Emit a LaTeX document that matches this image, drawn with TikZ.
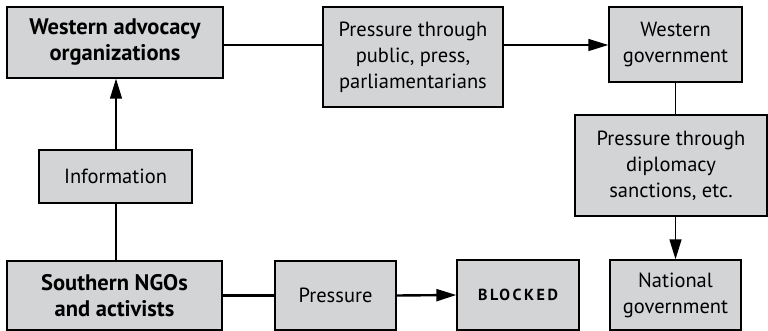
\documentclass[tikz,border=0pt]{standalone}
\usepackage{fontspec}
\setmainfont{PT Sans}
\newfontfamily\spacedcaps[LetterSpace=16]{PT Sans}
\usetikzlibrary{arrows.meta,calc}
\definecolor{boxgray}{HTML}{D3D4D6}
\tikzset{
  x=1pt, y=-1pt,
  box/.style={draw=black, line width=1.4pt, fill=boxgray, align=center,
    inner sep=0pt, font=\fontsize{20.5}{26}\selectfont},
  boldtext/.style={font=\fontsize{22.5}{26}\selectfont\bfseries},
  link/.style={line width=1.4pt},
  thick link/.style={line width=2.4pt},
  arrowed/.style={-{Triangle[length=20pt,width=12pt]}},
}
\begin{document}
\begin{tikzpicture}
\useasboundingbox (0,0) rectangle (768,331);
% boxes
\node[box, boldtext, minimum width=216pt, minimum height=71pt] (wao) at (115,42.5)
  {Western advocacy\\organizations};
\node[box, minimum width=180pt, minimum height=100pt] (ppp) at (413,57)
  {Pressure through\\public, press,\\parliamentarians};
\node[box, minimum width=133pt, minimum height=75pt] (wg) at (675.5,44.5)
  {Western\\government};
\node[box, minimum width=192pt, minimum height=101pt] (pds) at (671,165.5)
  {Pressure through\\diplomacy\\sanctions, etc.};
\node[box, minimum width=131pt, minimum height=70pt] (ng) at (675.5,295)
  {National\\government};
\node[box, minimum width=122pt, minimum height=70pt] (blk) at (518,295)
  {\spacedcaps\fontsize{16}{18}\selectfont\bfseries BLOCKED};
\node[box, minimum width=121pt, minimum height=69pt] (prs) at (335.5,295.5)
  {Pressure};
\node[box, boldtext, minimum width=215pt, minimum height=69pt] (sngo) at (114.5,295.5)
  {Southern NGOs\\and activists};
\node[box, minimum width=153pt, minimum height=53pt] (info) at (115.5,176.5)
  {Information};
% helper points for the connector lanes
\coordinate (toprow) at (0,45);
\coordinate (leftcol) at (116,0);
% connectors
\draw[link] (wao.east |- toprow) -- (ppp.west |- toprow);
\draw[link, arrowed] (ppp.east |- toprow) -- (wg.west |- toprow);
\draw[link] (wg.south) -- (pds.north -| wg.south);
\draw[link, arrowed] (pds.south -| ng.north) -- (ng.north);
\draw[link] (sngo.north -| leftcol) -- (info.south -| leftcol);
\draw[link, arrowed] (info.north -| leftcol) -- (wao.south -| leftcol);
\draw[thick link] (sngo.east) -- (prs.west);
\draw[thick link, arrowed] (prs.east) -- (blk.west);
\end{tikzpicture}
\end{document}
